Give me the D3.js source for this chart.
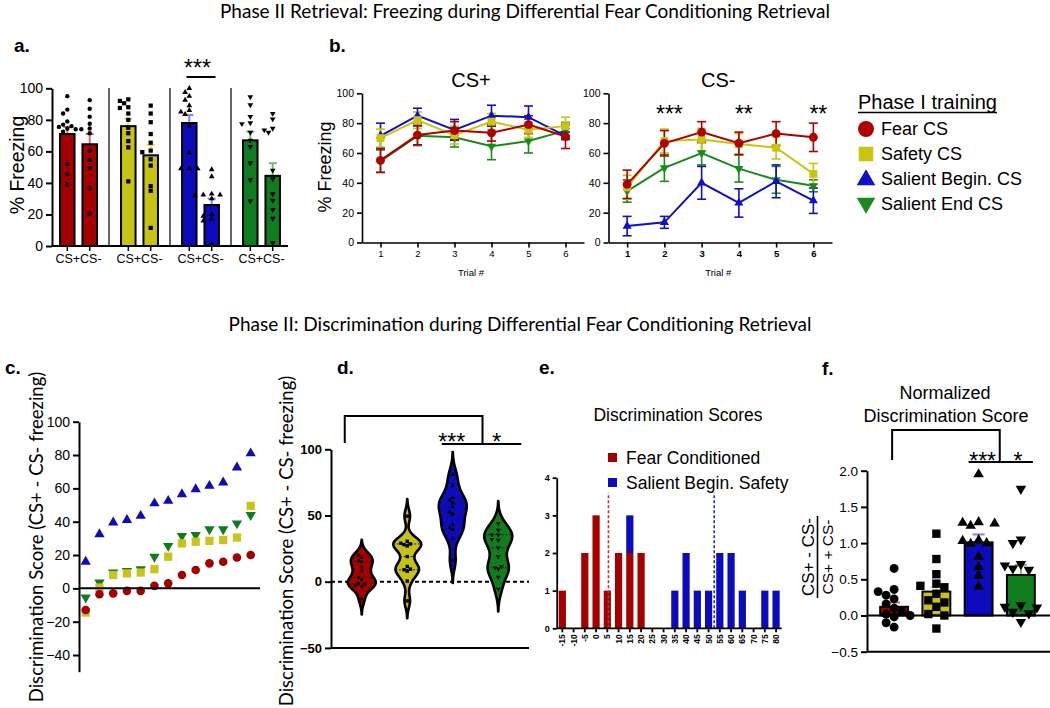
<!DOCTYPE html>
<html><head><meta charset="utf-8">
<script src="https://cdn.jsdelivr.net/npm/d3@7/dist/d3.min.js"></script>
<style>html,body{margin:0;padding:0;background:#fff;}svg{display:block;}</style>
</head><body>
<svg id="chart" width="1050" height="708"></svg>
<script>
// ================= DATA =================
const groupNames = ["Fear CS", "Safety CS", "Salient Begin. CS", "Salient End CS"];
const sideLabels = ["CS+", "CS-"];

// Panel a: % freezing, CS+ vs CS-
const aPlusMean = [71, 76, 78, 67];
const aPlusSem = [4.5, 4.5, 5, 5.5];
const aMinusMean = [64.5, 57.5, 26, 44.5];
const aMinusSem = [6.5, 6.5, 4, 8];
const aFearPlus = [95, 86.5, 84, 79, 77, 76, 75.5, 74.5, 74, 72.5, 52, 45.5, 39];
const aFearMinus = [92.5, 87, 82, 77.5, 74.5, 74, 71.5, 60.5, 54.5, 49.5, 36.5, 20.5];
const aSafetyPlus = [93, 92, 90.5, 88, 87.5, 84, 80, 75, 71.5, 66.5, 62.5, 41];
const aSafetyMinus = [89, 84, 78.5, 71, 65.5, 60.5, 59.5, 55, 51, 38, 35, 11.5];
const aBeginPlus = [100, 97.5, 95, 92.5, 89, 86, 85, 83.5, 76, 59, 49, 49, 49];
const aBeginMinus = [48.5, 44, 33, 32.5, 32.5, 32, 30, 20, 19, 17, 16, 1];
const aEndPlus = [94.5, 89.5, 82, 78, 77.5, 72, 67, 63, 52.5, 42, 28.5];
const aEndMinus = [84, 80.5, 74.5, 73.5, 72, 48, 42.5, 33, 29, 23, 17.5, 2];
const aTicks = [0, 20, 40, 60, 80, 100];

// Panel b: freezing per trial
const trials = [1, 2, 3, 4, 5, 6];
const bPlusFear = [55, 72, 75, 73.5, 79, 71];
const bPlusFearErr = [8, 6.5, 6, 5.5, 6, 8];
const bPlusSafety = [70, 82, 72, 81, 75.5, 78];
const bPlusSafetyErr = [6, 5.5, 6, 5.5, 5, 6];
const bPlusBegin = [71.5, 85, 75.5, 85, 84, 71.5];
const bPlusBeginErr = [8.5, 5, 7, 7, 7.5, 2.5];
const bPlusEnd = [54.5, 71.5, 70.5, 64.5, 68, 75];
const bPlusEndErr = [7.5, 6.5, 6.5, 9, 8, 5.5];
const bMinusFear = [39, 66.5, 74, 66.5, 73, 70.5];
const bMinusFearErr = [9.5, 8.5, 7, 7.5, 8, 9.5];
const bMinusSafety = [37, 68, 69, 66, 63.5, 46];
const bMinusSafetyErr = [8, 8, 7.5, 7, 7.5, 7];
const bMinusBegin = [11, 13.5, 40, 26.5, 41, 28];
const bMinusBeginErr = [6.5, 4, 11, 9.5, 11, 8.5];
const bMinusEnd = [34.5, 50, 60, 49.5, 42, 38];
const bMinusEndErr = [7.5, 9, 8, 9, 9, 4];
const bMinusStars = [[2, "***"], [4, "**"], [6, "**"]];

// Panel c / d: discrimination scores (ranked)
const cFear = [-13, -3.5, -3, -1.5, -1.5, 1.5, 3, 8, 11, 15, 16, 18.5, 20];
const cSafety = [-14.5, 0.5, 8, 9, 9.5, 11.5, 19, 27, 28, 28.5, 29, 30.5, 49.5];
const cBegin = [16, 32.5, 39.5, 41, 43.5, 51, 52.5, 56.5, 59.5, 61.5, 63.5, 72.5, 81];
const cEnd = [-5.5, 3.5, 9.5, 10.5, 11.5, 19, 25.5, 31.5, 32, 35.5, 35.5, 39, 44];
const cTicks = [-40, -20, 0, 20, 40, 60, 80, 100];
const dTicks = [-50, 0, 50, 100];

// Panel e: histogram
const eBins = ["-15","-10","-5","0","5","10","15","20","25","30","35","40","45","50","55","60","65","70","75","80"];
const eFear = [1, 0, 2, 3, 1, 2, 2, 2, 0, 0, 0, 0, 0, 0, 0, 0, 0, 0, 0, 0];
const eBegin = [0, 0, 0, 0, 0, 0, 1, 0, 0, 0, 1, 2, 1, 1, 2, 2, 1, 0, 1, 1];
const eMeans = [5.5, 52.5];
const eTicks = [0, 1, 2, 3, 4];
const eLegend = ["Fear Conditioned", "Salient Begin. Safety"];

// Panel f: normalized discrimination
const fMean = [0.12, 0.33, 1.01, 0.56];
const fSem = [0.06, 0.06, 0.11, 0.14];
const fFear = [0.65, 0.36, 0.33, 0.28, 0.23, 0.16, 0.1, 0.05, 0.02, 0, -0.02, -0.1, -0.16];
const fSafety = [1.13, 0.78, 0.57, 0.44, 0.41, 0.39, 0.3, 0.21, 0.18, 0.12, 0.02, 0, -0.18];
const fBegin = [1.95, 1.29, 1.28, 1.27, 1.24, 1.04, 1.03, 1.0, 0.99, 0.81, 0.67, 0.55, 0.4];
const fEnd = [1.75, 1.05, 1.0, 0.71, 0.69, 0.65, 0.63, 0.14, 0.12, 0.11, 0.05, 0.03, -0.09];
const fTicks = [-0.5, 0, 0.5, 1.0, 1.5, 2.0];

// ================= STYLE =================
const FA = "'Liberation Sans', Arial, sans-serif";
const FC = "Lato, 'Open Sans', sans-serif";
const col = ["#a40000", "#c8c214", "#0c0cbc", "#0f7d1d"];
const lineCol = ["#b00000", "#c9c40c", "#1010c8", "#1a8a1f"];
const errCol = ["#d46a6a", "#e3dd72", "#8080e4", "#6cba74"];
const shapes = ["circle", "square", "up", "down"];

const svg = d3.select("#chart");

function symPath(type, size) {
  const t = type === "circle" ? d3.symbolCircle : type === "square" ? d3.symbolSquare : d3.symbolTriangle;
  return d3.symbol().type(t).size(size)();
}
function mark(g, type, x, y, size, fill) {
  return g.append("path").attr("d", symPath(type, size))
    .attr("transform", `translate(${x},${y})` + (type === "down" ? " rotate(180)" : ""))
    .attr("fill", fill);
}
function txt(g, x, y, s, o = {}) {
  const t = g.append("text").attr("x", x).attr("y", y).text(s)
    .attr("font-family", o.ff || FA).attr("font-size", o.fs || 12)
    .attr("font-weight", o.fw || "normal").attr("text-anchor", o.anchor || "start")
    .attr("fill", o.fill || "#000");
  if (o.rot) t.attr("transform", `rotate(${o.rot},${x},${y})`);
  if (o.db) t.attr("dominant-baseline", o.db);
  return t;
}
function line(g, x1, y1, x2, y2, o = {}) {
  const l = g.append("line").attr("x1", x1).attr("y1", y1).attr("x2", x2).attr("y2", y2)
    .attr("stroke", o.stroke || "#000").attr("stroke-width", o.sw || 2);
  if (o.dash) l.attr("stroke-dasharray", o.dash);
  return l;
}
function styleAxis(g, sw, fs, fw) {
  g.attr("font-family", FA);
  g.select(".domain").attr("stroke", "#000").attr("stroke-width", sw);
  g.selectAll(".tick line").attr("stroke", "#000").attr("stroke-width", sw);
  g.selectAll(".tick text").attr("font-size", fs).attr("font-weight", fw || "normal").attr("fill", "#000");
}
function swarm(vals, yScale, cx, dist, step) {
  const placed = [];
  return vals.map(v => {
    const py = yScale(v);
    let px = cx;
    for (let k = 0; k < 14; k++) {
      const off = (k % 2 === 1 ? -1 : 1) * Math.ceil(k / 2) * step;
      const tx = cx + off;
      if (placed.every(p => Math.hypot(p[0] - tx, p[1] - py) >= dist)) { px = tx; break; }
    }
    placed.push([px, py]);
    return [px, py];
  });
}

// ================= TITLES =================
txt(svg, 525, 18, "Phase II Retrieval: Freezing during Differential Fear Conditioning Retrieval", { ff: FC, fs: 19, anchor: "middle" });
txt(svg, 520, 331, "Phase II: Discrimination during Differential Fear Conditioning Retrieval", { ff: FC, fs: 19, anchor: "middle" });
const letters = [["a.", 14, 52], ["b.", 329, 52], ["c.", 5, 374], ["d.", 337, 374], ["e.", 539, 374], ["f.", 822, 375]];
letters.forEach(l => txt(svg, l[1], l[2], l[0], { fs: 19, fw: "bold" }));

// ================= PANEL A =================
(function () {
  const g = svg.append("g");
  const x = d3.scaleBand().domain(groupNames).range([48, 292]);
  const y = d3.scaleLinear().domain([0, 100]).range([246, 88.3]);
  const plusPts = [aFearPlus, aSafetyPlus, aBeginPlus, aEndPlus];
  const minusPts = [aFearMinus, aSafetyMinus, aBeginMinus, aEndMinus];
  const half = 11.2, bw = 14.5;
  groupNames.slice(1).forEach(n => line(g, x(n), 88, x(n), y(0), { sw: 1.5, stroke: "#333" }));
  const centers = [];
  groupNames.forEach((n, i) => {
    const gc = x(n) + x.bandwidth() / 2;
    [0, 1].forEach(j => {
      const cx = gc + (j ? 1 : -1) * half;
      centers.push(cx);
      const m = j ? aMinusMean[i] : aPlusMean[i];
      const e = j ? aMinusSem[i] : aPlusSem[i];
      line(g, cx, y(m), cx, y(m + e), { stroke: errCol[i], sw: 2 });
      line(g, cx - 4, y(m + e), cx + 4, y(m + e), { stroke: errCol[i], sw: 2 });
      g.append("rect").attr("x", cx - bw / 2).attr("y", y(m)).attr("width", bw).attr("height", y(0) - y(m))
        .attr("fill", col[i]).attr("stroke", "#000").attr("stroke-width", 2);
    });
  });
  groupNames.forEach((n, i) => {
    const gc = x(n) + x.bandwidth() / 2;
    [plusPts[i], minusPts[i]].forEach((pts, j) => {
      const cx = gc + (j ? 1 : -1) * half;
      swarm(pts, y, cx, 4.6, 4.2).forEach(p => mark(g, shapes[i], p[0], p[1], shapes[i] === "circle" ? 15 : shapes[i] === "square" ? 18 : 14, "#000"));
    });
  });
  const ya = g.append("g").attr("transform", "translate(52,0)").call(d3.axisLeft(y).tickValues(aTicks).tickSize(6).tickSizeOuter(0));
  styleAxis(ya, 2, 14);
  line(g, 52, y(0), 288, y(0), { sw: 2 });
  centers.forEach(c => line(g, c, y(0), c, y(0) + 5, { sw: 1.5 }));
  groupNames.forEach(n => txt(g, x(n) + x.bandwidth() / 2, 263, sideLabels.join(""), { fs: 12.5, anchor: "middle" }));
  txt(g, 17, 165, "% Freezing", { fs: 19.5, anchor: "middle", rot: -90, db: "central" });
  const bc = x(groupNames[2]) + x.bandwidth() / 2;
  line(g, bc - 14, 77, bc + 15, 77, { sw: 2 });
  txt(g, bc - 3, 76, "***", { fs: 23, anchor: "middle" });
})();

// ================= PANEL B =================
function trialPlot(x0, x1, title, means, errs, boldTicks, stars, yLabel) {
  const g = svg.append("g");
  const x = d3.scaleLinear().domain([0.5, 6.5]).range([x0, x1]);
  const y = d3.scaleLinear().domain([0, 100]).range([242.5, 93.3]);
  const order = [3, 2, 1, 0];
  const sizes = { circle: 62, square: 62, up: 36, down: 36 };
  order.forEach(i => {
    const lg = d3.line().x((d, k) => x(trials[k])).y(d => y(d));
    g.append("path").attr("d", lg(means[i])).attr("fill", "none").attr("stroke", lineCol[i]).attr("stroke-width", 2);
    trials.forEach((t, k) => {
      const cx = x(t), m = means[i][k], e = errs[i][k];
      line(g, cx, y(m - e), cx, y(m + e), { stroke: lineCol[i], sw: 1.6 });
      line(g, cx - 4.5, y(m - e), cx + 4.5, y(m - e), { stroke: lineCol[i], sw: 1.6 });
      line(g, cx - 4.5, y(m + e), cx + 4.5, y(m + e), { stroke: lineCol[i], sw: 1.6 });
    });
  });
  order.forEach(i => {
    trials.forEach((t, k) => mark(g, shapes[i], x(t), y(means[i][k]), sizes[shapes[i]], lineCol[i]));
  });
  const ya = g.append("g").attr("transform", `translate(${x0},0)`).call(d3.axisLeft(y).tickValues(aTicks).tickSize(5).tickSizeOuter(0));
  styleAxis(ya, 1.6, 10.5);
  const xa = g.append("g").attr("transform", `translate(0,${y(0)})`).call(d3.axisBottom(x).tickValues(trials).tickFormat(d3.format("d")).tickSize(5).tickSizeOuter(0));
  styleAxis(xa, 1.6, 9.5, boldTicks ? "bold" : "normal");
  txt(g, (x0 + x1) / 2 - 2, 87, title, { fs: 20, anchor: "middle" });
  txt(g, (x0 + x1) / 2 - 2, 276, "Trial #", { fs: 9.5, anchor: "middle" });
  if (yLabel) txt(g, 325, 167, yLabel, { fs: 18, anchor: "middle", rot: -90, db: "central" });
  stars.forEach(s => txt(g, x(s[0]) + 5, 122, s[1], { fs: 23, anchor: "middle" }));
}
trialPlot(362, 584, "CS+", [bPlusFear, bPlusSafety, bPlusBegin, bPlusEnd], [bPlusFearErr, bPlusSafetyErr, bPlusBeginErr, bPlusEndErr], false, [], "% Freezing");
trialPlot(608.5, 832, "CS-", [bMinusFear, bMinusSafety, bMinusBegin, bMinusEnd], [bMinusFearErr, bMinusSafetyErr, bMinusBeginErr, bMinusEndErr], true, bMinusStars, null);

// legend
(function () {
  const g = svg.append("g");
  const t = txt(g, 858, 109, "Phase I training", { fs: 20 });
  const w = t.node().getComputedTextLength();
  line(g, 858, 112.5, 858 + w, 112.5, { sw: 1.5 });
  const rows = [129, 154, 179, 204];
  const sizes = { circle: 200, square: 210, up: 150, down: 150 };
  groupNames.forEach((n, i) => {
    mark(g, shapes[i], 866, rows[i] + (shapes[i] === "up" ? 1 : shapes[i] === "down" ? -1 : 0), sizes[shapes[i]], lineCol[i]);
    txt(g, 881, rows[i], n, { fs: 18, db: "central" });
  });
})();

// ================= PANEL C =================
(function () {
  const g = svg.append("g");
  const y = d3.scaleLinear().domain([-50, 100]).range([671.7, 421.7]);
  const x = d3.scaleLinear().domain([1, 13]).range([85.7, 250.7]);
  const series = [cFear, cSafety, cBegin, cEnd];
  const sizes = { circle: 58, square: 68, up: 46, down: 46 };
  [2, 3, 1, 0].forEach(i => series[i].forEach((v, k) => mark(g, shapes[i], x(k + 1), y(v), sizes[shapes[i]], col[i] === "#c8c214" ? "#c9c41c" : col[i])));
  const ya = g.append("g").attr("transform", "translate(79,0)").call(d3.axisLeft(y).tickValues(cTicks).tickSize(6).tickSizeOuter(0));
  styleAxis(ya, 2, 14);
  line(g, 79, y(0), 260, y(0), { sw: 2 });
  txt(g, 36, 537, "Discrimination Score (CS+ - CS- freezing)", { ff: FC, fs: 18.5, anchor: "middle", rot: -90, db: "central" });
})();

// ================= PANEL D =================
(function () {
  const g = svg.append("g");
  const y = d3.scaleLinear().domain([-50, 100]).range([647.9, 449.3]);
  const x = d3.scaleBand().domain(groupNames).range([339, 521]);
  const series = [cFear, cSafety, cBegin, cEnd];
  const bws = [4.5, 5, 6.5, 6.5];
  const maxHalf = 14;
  line(g, 331, y(0), 529, y(0), { sw: 2, dash: "4,3" });
  groupNames.forEach((n, i) => {
    const vals = series[i], bw = bws[i];
    const cx = x(n) + x.bandwidth() / 2;
    const dens = t => d3.mean(vals, v => Math.exp(-0.5 * ((t - v) / bw) ** 2)) / bw;
    const lo = d3.min(vals) - 2.6 * bw, hi = d3.max(vals) + 2.6 * bw;
    const grid = d3.range(0, 121).map(k => lo + (hi - lo) * k / 120);
    const dmax = d3.max(grid, dens);
    const w = d3.scaleLinear().domain([0, dmax]).range([0, maxHalf]);
    const area = d3.area().y(t => y(t)).x0(t => cx - w(dens(t))).x1(t => cx + w(dens(t))).curve(d3.curveBasis);
    g.append("path").attr("d", area(grid)).attr("fill", col[i]).attr("stroke", "#000").attr("stroke-width", 2.6).attr("stroke-linejoin", "round");
    const sorted = vals.slice().sort(d3.ascending);
    [0.25, 0.5, 0.75].forEach(q => {
      const qv = d3.quantile(sorted, q), hw = w(dens(qv));
      line(g, cx - hw, y(qv), cx + hw, y(qv), { sw: 1, dash: "2,1.5", stroke: "#222" });
    });
    swarm(vals, y, cx, 3.4, 3.2).forEach(p => mark(g, shapes[i], p[0], p[1], shapes[i] === "square" ? 12 : 9, "#000"));
  });
  const ya = g.append("g").attr("transform", "translate(331,0)").call(d3.axisLeft(y).tickValues(dTicks).tickSize(6).tickSizeOuter(0));
  styleAxis(ya, 2, 13, "bold");
  line(g, 331, y(-50), 529, y(-50), { sw: 2 });
  txt(g, 286, 541, "Discrimination Score (CS+ - CS- freezing)", { ff: FC, fs: 18.5, anchor: "middle", rot: -90, db: "central" });
  const c0 = x(groupNames[0]) + x.bandwidth() / 2;
  const c2 = x(groupNames[2]) + x.bandwidth() / 2;
  const c3 = x(groupNames[3]) + x.bandwidth() / 2;
  const mid = (c2 + c3) / 2 + 7;
  g.append("path").attr("d", `M${c0 - 17},443 V416 H${mid} V444`).attr("fill", "none").attr("stroke", "#000").attr("stroke-width", 2);
  line(g, c2 - 11, 444, c3 + 23, 444, { sw: 2 });
  txt(g, c2 - 1, 450, "***", { fs: 23, anchor: "middle" });
  txt(g, c3 - 1.5, 450, "*", { fs: 23, anchor: "middle" });
})();

// ================= PANEL E =================
(function () {
  const g = svg.append("g");
  const x = d3.scaleBand().domain(eBins).range([556.7, 781.7]).paddingInner(0.36).paddingOuter(0.18);
  const y = d3.scaleLinear().domain([0, 4]).range([628.3, 477.7]);
  const ecol = ["#a40000", "#0c0cbc"];
  eBins.forEach((b, k) => {
    if (eFear[k] > 0) g.append("rect").attr("x", x(b)).attr("width", x.bandwidth()).attr("y", y(eFear[k])).attr("height", y(0) - y(eFear[k])).attr("fill", ecol[0]);
    if (eBegin[k] > 0) g.append("rect").attr("x", x(b)).attr("width", x.bandwidth()).attr("y", y(eFear[k] + eBegin[k])).attr("height", y(eFear[k]) - y(eFear[k] + eBegin[k])).attr("fill", ecol[1]);
  });
  const vx = d3.scaleLinear().domain([+eBins[0], +eBins[eBins.length - 1]])
    .range([x(eBins[0]) + x.bandwidth() / 2, x(eBins[eBins.length - 1]) + x.bandwidth() / 2]);
  line(g, vx(eMeans[0]), y(0), vx(eMeans[0]), y(3.6), { stroke: "#b23a3a", sw: 1.6, dash: "3,2" });
  line(g, vx(eMeans[1]), y(0), vx(eMeans[1]), y(3.6), { stroke: "#2b2bd0", sw: 1.6, dash: "3,2" });
  const ya = g.append("g").attr("transform", "translate(556.7,0)").call(d3.axisLeft(y).tickValues(eTicks).tickFormat(d3.format("d")).tickSize(4).tickSizeOuter(0));
  styleAxis(ya, 1.8, 9, "bold");
  const xa = g.append("g").attr("transform", `translate(0,${y(0)})`).call(d3.axisBottom(x).tickSize(4).tickSizeOuter(0));
  styleAxis(xa, 1.8, 8.5, "bold");
  xa.select(".domain").attr("d", `M556.7,0H781.7`);
  xa.selectAll(".tick text").attr("transform", "rotate(-90)").attr("text-anchor", "end").attr("x", -6).attr("y", 0).attr("dy", "0.35em");
  txt(g, 678, 421, "Discrimination Scores", { fs: 17.5, anchor: "middle" });
  eLegend.forEach((s, k) => {
    g.append("rect").attr("x", 608).attr("y", 453 + k * 25).attr("width", 9).attr("height", 9).attr("fill", ecol[k]);
    txt(g, 626, 458 + k * 25, s, { fs: 17.5, db: "central" });
  });
})();

// ================= PANEL F =================
(function () {
  const g = svg.append("g");
  const x = d3.scaleBand().domain(groupNames).range([873, 1042]).paddingInner(0.34).paddingOuter(0.17);
  const y = d3.scaleLinear().domain([-0.5, 2]).range([651.7, 470.7]);
  const pts = [fFear, fSafety, fBegin, fEnd];
  groupNames.forEach((n, i) => {
    const cx = x(n) + x.bandwidth() / 2;
    const m = fMean[i], e = fSem[i];
    line(g, cx, y(m), cx, y(m + e), { stroke: errCol[i], sw: 2 });
    line(g, cx - 6, y(m + e), cx + 6, y(m + e), { stroke: errCol[i], sw: 2 });
    g.append("rect").attr("x", x(n)).attr("y", y(m)).attr("width", x.bandwidth()).attr("height", y(0) - y(m))
      .attr("fill", col[i]).attr("stroke", "#000").attr("stroke-width", 2);
  });
  groupNames.forEach((n, i) => {
    const cx = x(n) + x.bandwidth() / 2;
    swarm(pts[i], y, cx, 8.5, 8).forEach(p => mark(g, shapes[i], p[0], p[1], shapes[i] === "circle" ? 62 : shapes[i] === "square" ? 70 : 48, "#000"));
  });
  const ya = g.append("g").attr("transform", "translate(867,0)").call(d3.axisLeft(y).tickValues(fTicks).tickFormat(d3.format(".1f")).tickSize(6).tickSizeOuter(0));
  styleAxis(ya, 2, 13.5);
  line(g, 867, y(0), 1050, y(0), { sw: 2 });
  line(g, 867, y(-0.5), 1050, y(-0.5), { sw: 2 });
  txt(g, 945, 399, "Normalized", { fs: 18, anchor: "middle" });
  txt(g, 946, 422, "Discrimination Score", { fs: 18, anchor: "middle" });
  txt(g, 808, 557, "CS+ - CS-", { fs: 17, anchor: "middle", rot: -90, db: "central" });
  line(g, 817.5, 516, 817.5, 598, { sw: 1.6 });
  txt(g, 827, 557, "CS+ + CS-", { fs: 15.5, anchor: "middle", rot: -90, db: "central" });
  const c0 = x(groupNames[0]) + x.bandwidth() / 2;
  const c2 = x(groupNames[2]) + x.bandwidth() / 2;
  const c3 = x(groupNames[3]) + x.bandwidth() / 2;
  const mid = (c2 + c3) / 2;
  g.append("path").attr("d", `M${c0 - 2},460 V430 H${mid} V462`).attr("fill", "none").attr("stroke", "#000").attr("stroke-width", 2);
  line(g, c2 - 10, 462, c3 + 12, 462, { sw: 2 });
  txt(g, c2 + 4, 469, "***", { fs: 23, anchor: "middle" });
  txt(g, c3 - 3, 469, "*", { fs: 23, anchor: "middle" });
})();
</script>
</body></html>
